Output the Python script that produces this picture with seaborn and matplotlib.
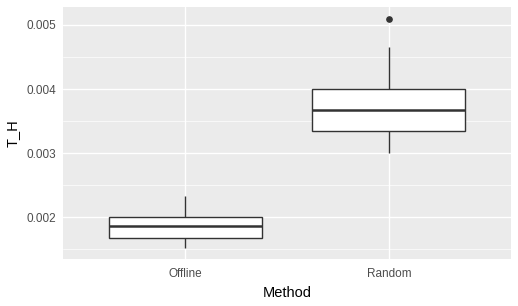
import pandas as pd
import seaborn as sns
import matplotlib.pyplot as plt
from matplotlib.ticker import MultipleLocator, FormatStrFormatter

offline = [0.00152, 0.00160, 0.00167, 0.00178, 0.00186, 0.00193, 0.00201, 0.00215, 0.00233]
random_ = [0.00300, 0.00320, 0.00334, 0.00352, 0.00367, 0.00385, 0.00400, 0.00465, 0.00510]
methods = ["Offline", "Random"]

df = pd.DataFrame({
    "Method": [methods[0]] * len(offline) + [methods[1]] * len(random_),
    "T_H": offline + random_,
})

sns.set_style("darkgrid", {"axes.facecolor": "#EBEBEB", "grid.color": "white"})
plt.rcParams["font.family"] = ["Liberation Sans", "DejaVu Sans"]

fig = plt.figure(figsize=(5.18, 3.06), dpi=100)
ax = fig.add_axes([63 / 518, 47 / 306, 448 / 518, 252 / 306])

sns.boxplot(data=df, x="Method", y="T_H", order=methods, width=0.75, ax=ax,
            color="white", linecolor="#333333", linewidth=1.0, showcaps=False,
            medianprops={"linewidth": 1.8, "color": "#333333"},
            flierprops={"marker": "o", "markersize": 3.8, "markerfacecolor": "#333333",
                        "markeredgecolor": "#333333"})

ax.set_ylim(0.001347, 0.00528)
ax.set_xlim(-0.6, 1.6)
ax.yaxis.set_major_locator(MultipleLocator(0.001))
ax.yaxis.set_minor_locator(MultipleLocator(0.0005))
ax.yaxis.set_major_formatter(FormatStrFormatter("%.3f"))
ax.grid(which="major", color="white", linewidth=1.0)
ax.grid(which="minor", axis="y", color="white", linewidth=0.5)
ax.set_axisbelow(True)
for s in ax.spines.values():
    s.set_visible(False)

ax.tick_params(axis="both", which="major", length=2.7, width=0.8, color="#333333",
               labelsize=8.5, labelcolor="#4D4D4D", pad=2)
ax.tick_params(axis="x", which="major", pad=3.5)
ax.tick_params(axis="y", which="minor", length=0)
ax.set_xlabel("Method", fontsize=10.5, color="black", labelpad=4.5)
ax.set_ylabel("T_H", fontsize=10.5, color="black", labelpad=5)

fig.savefig("out.png", dpi=100)
